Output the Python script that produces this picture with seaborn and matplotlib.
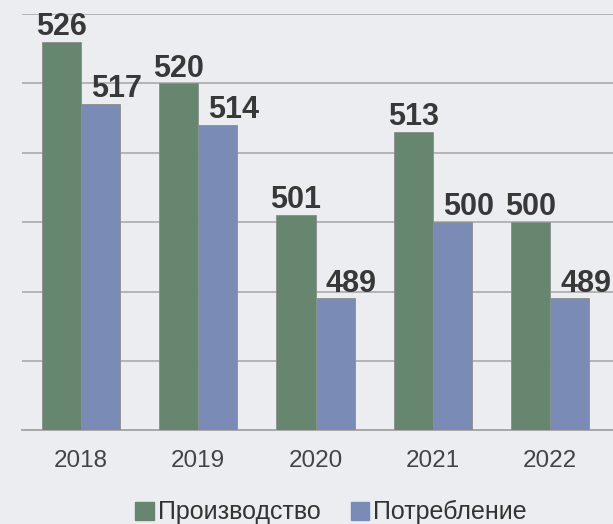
import pandas as pd
import seaborn as sns
import matplotlib.pyplot as plt

# Data
years = ['2018', '2019', '2020', '2021', '2022']
production = [526, 520, 501, 513, 500]
consumption = [517, 514, 489, 500, 489]
series_names = ['Производство', 'Потребление']
colors = ['#66866f', '#7a8cb6']
bg = '#ecedf1'

df = pd.DataFrame({
    'year': years * 2,
    'value': production + consumption,
    'series': [series_names[0]] * len(years) + [series_names[1]] * len(years),
})

sns.set_style('white')
plt.rcParams['font.family'] = ['Liberation Sans', 'DejaVu Sans']

fig = plt.figure(figsize=(6.13, 5.24), dpi=100, facecolor=bg)
ax = fig.add_axes([0.0365, 0.179, 0.9635, 0.794])
ax.set_facecolor(bg)

sns.barplot(data=df, x='year', y='value', hue='series', palette=colors,
            width=0.667, saturation=1, edgecolor='#8a8f8c', linewidth=0.6,
            ax=ax, zorder=3)

ax.set_ylim(470, 530)
ax.set_xlim(-0.5, 4.537)
ax.set_yticks(range(470, 531, 10))
ax.yaxis.grid(True, color='#b4b4b4', linewidth=1.4, zorder=0)
ax.set_yticklabels([])
ax.tick_params(axis='both', length=0)
ax.tick_params(axis='x', pad=14, labelsize=17.5, labelcolor='#444444')
ax.set_xlabel('')
ax.set_ylabel('')
for s in ['top', 'right', 'left']:
    ax.spines[s].set_visible(False)
ax.spines['bottom'].set_color('#a8a8a8')
ax.spines['bottom'].set_linewidth(1.4)

# value labels: consumption labels sit slightly to the right of their bars
for i, cont in enumerate(ax.containers):
    dx = 0 if i == 0 else 11.5
    for bar in cont:
        h = bar.get_height()
        ax.annotate(f'{h:.0f}', (bar.get_x() + bar.get_width() / 2, h),
                    xytext=(dx, 5), textcoords='offset points',
                    ha='center', va='baseline', fontsize=22, fontweight='bold',
                    color='#383838', annotation_clip=False, zorder=4)

ax.get_legend().remove()
handles = [plt.Rectangle((0, 0), 1, 1, color=c) for c in colors]
fig.legend(handles, series_names, loc='center', bbox_to_anchor=(0.54, 0.022),
           ncol=2, frameon=False, fontsize=18, handlelength=0.75,
           handleheight=0.75, handletextpad=0.15, columnspacing=1.2,
           labelcolor='#333333')

fig.savefig('out.png', dpi=100, facecolor=bg)
